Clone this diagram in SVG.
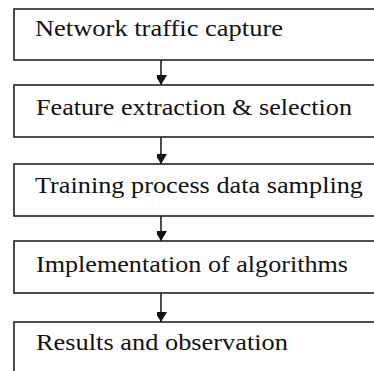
<svg xmlns="http://www.w3.org/2000/svg" width="374" height="371" viewBox="0 0 374 371">
<style>
.box{fill:#fff;stroke:#222;stroke-width:1.6}
.lbl{font-family:"Liberation Serif","Times New Roman",serif;font-size:23px;fill:#111}
.con{stroke:#111;stroke-width:1.5;fill:none}
</style>
<defs>
<marker id="ah" markerWidth="12" markerHeight="10" refX="10" refY="6" orient="auto" markerUnits="userSpaceOnUse">
<path d="M0,0 L10,6 L0,12 Z" fill="#111"/>
</marker>
</defs>
<rect width="374" height="371" fill="#fff"/>
<g id="connectors">
<line class="con" x1="161" y1="60" x2="161" y2="85" marker-end="url(#ah)"/>
<line class="con" x1="161" y1="137" x2="161" y2="164" marker-end="url(#ah)"/>
<line class="con" x1="161" y1="216" x2="161" y2="241" marker-end="url(#ah)"/>
<line class="con" x1="161" y1="293" x2="161" y2="322" marker-end="url(#ah)"/>
</g>
<g id="n1"><rect class="box" x="14" y="9" width="380" height="51"/><text class="lbl" x="35" y="36" textLength="248" lengthAdjust="spacingAndGlyphs">Network traffic capture</text></g>
<g id="n2"><rect class="box" x="14" y="85" width="380" height="52"/><text class="lbl" x="36" y="115" textLength="316" lengthAdjust="spacingAndGlyphs">Feature extraction &amp; selection</text></g>
<g id="n3"><rect class="box" x="14" y="164" width="380" height="52"/><text class="lbl" x="35" y="193" textLength="328" lengthAdjust="spacingAndGlyphs">Training process data sampling</text></g>
<g id="n4"><rect class="box" x="14" y="241" width="380" height="52"/><text class="lbl" x="36" y="272" textLength="312" lengthAdjust="spacingAndGlyphs">Implementation of algorithms</text></g>
<g id="n5"><rect class="box" x="14" y="322" width="380" height="70"/><text class="lbl" x="36" y="350" textLength="252" lengthAdjust="spacingAndGlyphs">Results and observation</text></g>
</svg>
